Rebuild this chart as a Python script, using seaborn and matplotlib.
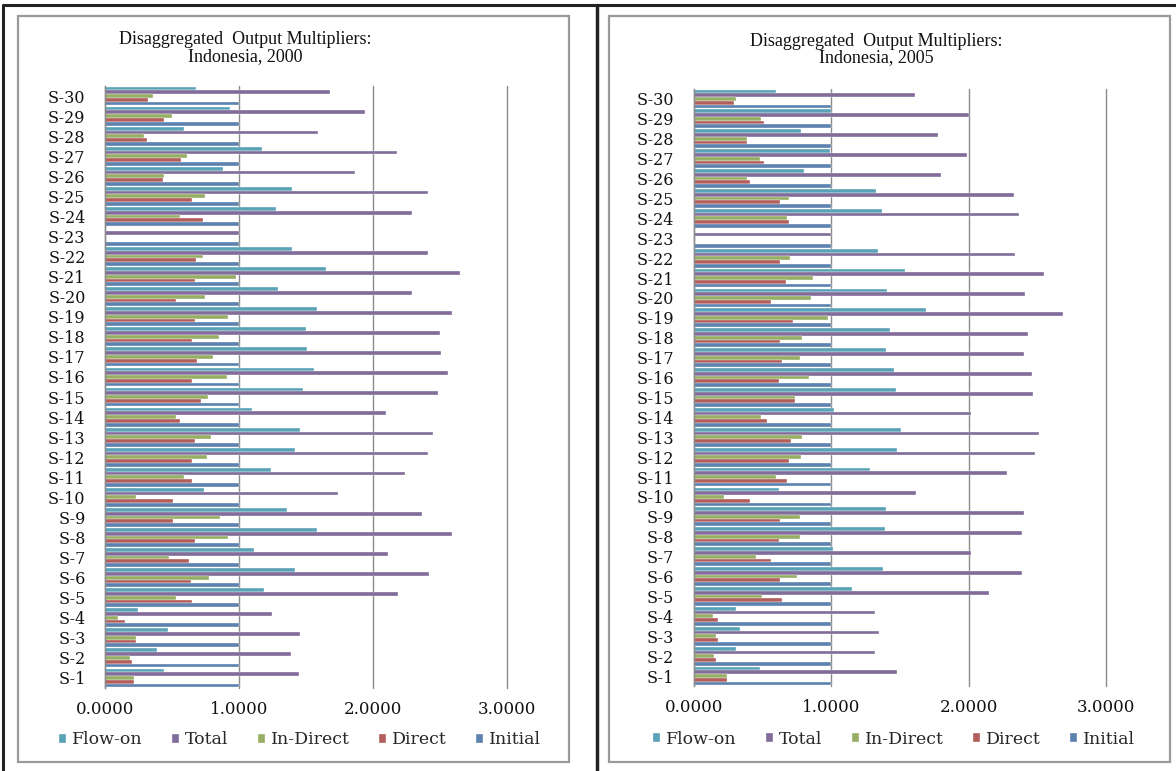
import numpy as np
import pandas as pd
import matplotlib
matplotlib.use("Agg")
import matplotlib.pyplot as plt
import seaborn as sns
from matplotlib.patches import Rectangle
from matplotlib.lines import Line2D
from matplotlib.ticker import FormatStrFormatter


# ==================================
# DATA  (sectors listed S-1 ... S-30)
# ==================================

sectors = [f"S-{i}" for i in range(1, 31)]
series_order = ["Flow-on", "Total", "In-Direct", "Direct", "Initial"]

initial_2000 = [1.00, 1.00, 1.00, 1.00, 1.00, 1.00, 1.00, 1.00, 1.00, 1.00,
                1.00, 1.00, 1.00, 1.00, 1.00, 1.00, 1.00, 1.00, 1.00, 1.00,
                1.00, 1.00, 1.00, 1.00, 1.00, 1.00, 1.00, 1.00, 1.00, 1.00]
direct_2000 = [0.22, 0.20, 0.23, 0.15, 0.65, 0.64, 0.63, 0.67, 0.51, 0.51,
               0.65, 0.65, 0.67, 0.56, 0.72, 0.65, 0.69, 0.65, 0.67, 0.53,
               0.67, 0.68, 0.00, 0.73, 0.65, 0.43, 0.57, 0.31, 0.44, 0.32]
indirect_2000 = [0.22, 0.19, 0.23, 0.10, 0.53, 0.78, 0.48, 0.92, 0.86, 0.23,
                 0.59, 0.76, 0.79, 0.53, 0.77, 0.91, 0.81, 0.85, 0.92, 0.75,
                 0.98, 0.73, 0.00, 0.56, 0.75, 0.44, 0.61, 0.29, 0.50, 0.36]
total_2000 = [1.45, 1.39, 1.46, 1.25, 2.19, 2.42, 2.11, 2.59, 2.37, 1.74,
              2.24, 2.41, 2.45, 2.10, 2.49, 2.56, 2.51, 2.50, 2.59, 2.29,
              2.65, 2.41, 1.00, 2.29, 2.41, 1.87, 2.18, 1.59, 1.94, 1.68]
flowon_2000 = [0.44, 0.39, 0.47, 0.25, 1.19, 1.42, 1.11, 1.58, 1.36, 0.74,
               1.24, 1.42, 1.46, 1.10, 1.48, 1.56, 1.51, 1.50, 1.58, 1.29,
               1.65, 1.40, 0.00, 1.28, 1.40, 0.88, 1.17, 0.59, 0.93, 0.68]

initial_2005 = [1.00, 1.00, 1.00, 1.00, 1.00, 1.00, 1.00, 1.00, 1.00, 1.00,
                1.00, 1.00, 1.00, 1.00, 1.00, 1.00, 1.00, 1.00, 1.00, 1.00,
                1.00, 1.00, 1.00, 1.00, 1.00, 1.00, 1.00, 1.00, 1.00, 1.00]
direct_2005 = [0.24, 0.16, 0.18, 0.18, 0.64, 0.63, 0.56, 0.62, 0.63, 0.41,
               0.68, 0.69, 0.71, 0.53, 0.74, 0.62, 0.64, 0.63, 0.72, 0.56,
               0.67, 0.63, 0.00, 0.69, 0.63, 0.41, 0.51, 0.39, 0.51, 0.29]
indirect_2005 = [0.24, 0.15, 0.16, 0.14, 0.50, 0.75, 0.45, 0.77, 0.77, 0.22,
                 0.60, 0.78, 0.79, 0.49, 0.74, 0.84, 0.77, 0.79, 0.98, 0.85,
                 0.87, 0.70, 0.00, 0.68, 0.69, 0.39, 0.48, 0.39, 0.49, 0.31]
total_2005 = [1.48, 1.32, 1.35, 1.32, 2.15, 2.39, 2.02, 2.39, 2.40, 1.62,
              2.28, 2.48, 2.51, 2.02, 2.47, 2.46, 2.40, 2.43, 2.69, 2.41,
              2.55, 2.34, 1.00, 2.37, 2.33, 1.80, 1.99, 1.78, 2.00, 1.61]
flowon_2005 = [0.48, 0.31, 0.34, 0.31, 1.15, 1.38, 1.01, 1.39, 1.40, 0.62,
               1.28, 1.48, 1.51, 1.02, 1.47, 1.46, 1.40, 1.43, 1.69, 1.41,
               1.54, 1.34, 0.00, 1.37, 1.33, 0.80, 0.99, 0.78, 1.00, 0.60]

colors = {
    "Flow-on": "#4BACC6",
    "Total": "#8064A2",
    "In-Direct": "#9BBB59",
    "Direct": "#C0504D",
    "Initial": "#4F81BD",
}


def long_table(initial, direct, indirect, total, flowon):
    wide = pd.DataFrame({
        "sector": sectors,
        "Initial": initial,
        "Direct": direct,
        "In-Direct": indirect,
        "Total": total,
        "Flow-on": flowon,
    })
    return wide.melt(id_vars="sector", var_name="series", value_name="value")


df_2000 = long_table(initial_2000, direct_2000, indirect_2000, total_2000, flowon_2000)
df_2005 = long_table(initial_2005, direct_2005, indirect_2005, total_2005, flowon_2005)


# ==================================
# FIGURE
# ==================================

W, H = 1176, 771
sns.set_style("white")
plt.rcParams["font.family"] = ["DejaVu Serif", "DejaVu Sans"]

fig = plt.figure(figsize=(W / 100, H / 100), dpi=100, facecolor="white")


def fx(x):
    return x / W


def fy(y):
    return 1 - y / H


# outer black frame and divider
fig.add_artist(Line2D([fx(3), fx(1176)], [fy(5), fy(5)], color="#222222", lw=2.2,
                      transform=fig.transFigure))
fig.add_artist(Line2D([fx(3), fx(3)], [fy(5), fy(771)], color="#222222", lw=2.2,
                      transform=fig.transFigure))
fig.add_artist(Line2D([fx(597), fx(597)], [fy(5), fy(771)], color="#222222", lw=2.5,
                      transform=fig.transFigure))

# gray chart-area frames
for x0, x1 in [(18, 569), (609, 1170)]:
    fig.add_artist(Rectangle((fx(x0), fy(762)), fx(x1) - fx(x0), fy(16) - fy(762),
                             fill=False, edgecolor="#9a9a9a", lw=1.6,
                             transform=fig.transFigure))

panels = [
    dict(df=df_2000, year="2000", x0=105, x1=506.7, top=86, bottom=688,
         title_x=245, title_y=(40, 57), legend=(300, 740)),
    dict(df=df_2005, year="2005", x0=693.7, x1=1106, top=89, bottom=686,
         title_x=876, title_y=(41, 58), legend=(894, 739)),
]

sector_order = sectors[::-1]

for p in panels:
    ax = fig.add_axes([fx(p["x0"]), fy(p["bottom"]),
                       fx(p["x1"]) - fx(p["x0"]), fy(p["top"]) - fy(p["bottom"])])

    sns.barplot(
        data=p["df"],
        x="value",
        y="sector",
        hue="series",
        order=sector_order,
        hue_order=series_order,
        palette=colors,
        orient="h",
        width=0.94,
        errorbar=None,
        edgecolor="white",
        linewidth=0.25,
        ax=ax,
    )

    handles, labels = ax.get_legend_handles_labels()
    if ax.get_legend() is not None:
        ax.get_legend().remove()

    ax.set_xlim(0, 3)
    ax.set_ylim(29.5, -0.5)
    ax.set_xticks([0, 1, 2, 3])
    ax.xaxis.set_major_formatter(FormatStrFormatter("%.4f"))
    ax.set_xlabel("")
    ax.set_ylabel("")

    ax.xaxis.grid(True, color="#8a8a8a", lw=1.0)
    ax.yaxis.grid(False)
    ax.set_axisbelow(True)
    for gl in ax.get_xgridlines():
        gl.set_clip_on(False)

    for side in ["top", "right", "bottom"]:
        ax.spines[side].set_visible(False)
    ax.spines["left"].set_color("#8a8a8a")
    ax.spines["left"].set_linewidth(1.0)

    ax.tick_params(axis="y", length=0, pad=14, labelsize=11.5, labelcolor="#111111")
    ax.tick_params(axis="x", length=0, pad=9, labelsize=12, labelcolor="#111111")
    ax.set_facecolor("none")

    fig.text(fx(p["title_x"]), fy(p["title_y"][0]), "Disaggregated  Output Multipliers:",
             ha="center", va="center", fontsize=13, family="Liberation Serif",
             color="#111111")
    fig.text(fx(p["title_x"]), fy(p["title_y"][1]), f"Indonesia, {p['year']}",
             ha="center", va="center", fontsize=13, family="Liberation Serif",
             color="#111111")

    ax.legend(
        handles, labels,
        loc="center",
        bbox_to_anchor=(fx(p["legend"][0]), fy(p["legend"][1])),
        bbox_transform=fig.transFigure,
        ncol=5,
        frameon=False,
        fontsize=12.5,
        handlelength=0.4,
        handleheight=0.4,
        handletextpad=0.35,
        columnspacing=1.7,
        borderpad=0,
    )

fig.savefig("out.png", dpi=100, facecolor="white")
